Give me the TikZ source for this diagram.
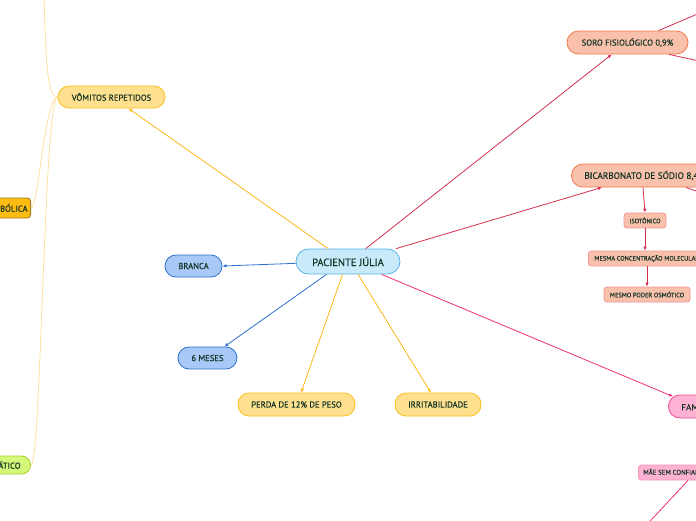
\documentclass[tikz,border=0pt]{standalone}
\usepackage{fontspec}
\setmainfont{PT Sans}[FakeBold=0.35,UprightFeatures={FakeBold=0.35}]
\usetikzlibrary{arrows.meta,calc}
\definecolor{txt}{HTML}{143426}
\definecolor{cF}{HTML}{C8EAFB}
\definecolor{cB}{HTML}{58B4E8}
\definecolor{blueF}{HTML}{A8C9F8}
\definecolor{blueB}{HTML}{3070D0}
\definecolor{yelF}{HTML}{FEE08F}
\definecolor{yelB}{HTML}{FBBF1C}
\definecolor{salF}{HTML}{F9C0AC}
\definecolor{salB}{HTML}{F27A4E}
\definecolor{salS}{HTML}{F2969A}
\definecolor{pinkF}{HTML}{FDB1D3}
\definecolor{pinkB}{HTML}{F04A90}
\definecolor{orF}{HTML}{FDBC12}
\definecolor{orB}{HTML}{A07A20}
\definecolor{grF}{HTML}{D6F87A}
\definecolor{grB}{HTML}{A2D42C}
\definecolor{redL}{HTML}{D43050}
\definecolor{pinkL}{HTML}{F0307C}
\definecolor{blueL}{HTML}{2F6FD0}
\definecolor{yelL}{HTML}{FBBA1A}
\definecolor{thinL}{HTML}{FFDE98}
\tikzset{
  basebox/.style={text=txt, inner sep=0pt, align=center, line width=0.8pt},
  cbox/.style={basebox, draw=cB, fill=cF, rounded corners=12.5pt, font=\fontsize{10.5}{12}\selectfont},
  bluebox/.style={basebox, draw=blueB, fill=blueF, rounded corners=11pt, minimum height=22pt, font=\fontsize{8.6}{10}\selectfont},
  yelbox/.style={basebox, draw=yelB, fill=yelF, rounded corners=11pt, minimum height=22pt, font=\fontsize{8.6}{10}\selectfont},
  salbox/.style={basebox, draw=salB, fill=salF, rounded corners=11.5pt, minimum height=23pt, font=\fontsize{8.6}{10}\selectfont},
  smallbox/.style={basebox, draw=salS, fill=salF, rounded corners=3pt, minimum height=15pt, font=\fontsize{6.4}{8}\selectfont},
  pinkbox/.style={basebox, draw=pinkB, fill=pinkF, rounded corners=11.5pt, minimum height=23pt, font=\fontsize{9}{11}\selectfont},
  pinksmall/.style={basebox, draw=pinkB!60, fill=pinkF, rounded corners=3pt, minimum height=15pt, font=\fontsize{6.8}{8}\selectfont},
  orbox/.style={basebox, draw=orB, fill=orF, rounded corners=3pt, minimum height=20pt, font=\fontsize{8.6}{10}\selectfont},
  grbox/.style={basebox, draw=grB, fill=grF, rounded corners=9pt, minimum height=18pt, font=\fontsize{8.6}{10}\selectfont},
  conn/.style={line width=0.8pt, -{Latex[length=4pt,width=3.5pt]}},
  plainconn/.style={line width=0.8pt},
  thinconn/.style={thinL, line width=0.7pt},
}
\begin{document}
\begin{tikzpicture}[x=1pt,y=-1pt]
\useasboundingbox (0,0) rectangle (696,520);
\clip (0,0) rectangle (696,520);
\fill[white] (0,0) rectangle (696,520);

% nodes
\node[cbox, minimum width=104pt, minimum height=25pt] (c) at (348,261.5) {PACIENTE JÚLIA};
\node[bluebox, minimum width=57pt] (br) at (193.5,266) {BRANCA};
\node[bluebox, minimum width=59pt] (m6) at (207.5,358) {6 MESES};
\node[yelbox, minimum width=117pt, minimum height=23pt] (pe) at (296.5,404.5) {PERDA DE 12\% DE PESO};
\node[yelbox, minimum width=86pt, minimum height=23pt] (ir) at (438,404.5) {IRRITABILIDADE};
\node[yelbox, minimum width=107pt] (vo) at (111.5,97) {VÔMITOS REPETIDOS};
\node[salbox, minimum width=121pt] (so) at (627.5,42.5) {SORO FISIOLÓGICO 0,9\%};
\node[salbox, anchor=west, inner xsep=13pt, font=\fontsize{9.2}{11}\selectfont] (bi) at (571,175.5) {BICARBONATO DE SÓDIO 8,4\%};
\node[smallbox, minimum width=42pt] (is) at (645,220.5) {ISOTÔNICO};
\node[smallbox, anchor=west, inner xsep=6pt] (me) at (588,258.5) {MESMA CONCENTRAÇÃO MOLECULAR};
\node[smallbox, minimum width=86pt] (mo) at (647,294.5) {MESMO PODER OSMÓTICO};
\node[pinkbox, anchor=west, inner xsep=13pt] (fa) at (668,406.5) {FAMÍLIA};
\node[pinksmall, anchor=west, inner xsep=5pt] (ma) at (638,472.5) {MÃE SEM CONFIANÇA};
\node[orbox, anchor=east, inner xsep=3pt] (mt) at (31,208) {METABÓLICA};
\node[grbox, anchor=east, inner xsep=10pt] (at) at (31,465) {ÁTICO};

% off-canvas ends
\coordinate (so1) at (735,-2);
\coordinate (so2) at (735,69);
\coordinate (bi1) at (735,205);
\coordinate (ma1) at (640,532);
\coordinate (top1) at (44,-5);

% central connectors
\draw[conn, yelL] (c.147) -- (vo.326);
\draw[conn, redL] (c.36) -- (so.217);
\draw[conn, redL] (c.15) -- ($(bi.south west)+(31,0)$);
\draw[conn, blueL] (c.182) -- (br.east);
\draw[conn, blueL] (c.211) -- (m6.34);
\draw[conn, yelL] (c.247) -- (pe.69);
\draw[conn, yelL] (c.308) -- (ir.121);
\draw[conn, pinkL] (c.339) -- ($(fa.west)+(5,-10)$);

% right side
\draw[plainconn, redL] (so.21) -- (so1);
\draw[plainconn, redL] (so.344) -- (so2);
\draw[conn, redL] ($(bi.south west)+(72,0)$) -- (is.north);
\draw[plainconn, redL] ($(bi.south west)+(115,0)$) -- (bi1);
\draw[conn, redL] (is.south) -- (is.south |- me.north);
\draw[conn, redL] (mo.north |- me.south) -- (mo.north);
\draw[conn, pinkL] (fa.south) -- (fa.south |- ma.north);
\draw[plainconn, pinkL] ($(ma.south west)+(50,0)$) -- (ma1);

% left thin curves
\draw[thinconn] (vo.west) .. controls (48,97) and (46,70) .. (top1);
\draw[thinconn] (vo.west) .. controls (44,100) and (39,205) .. (mt.east);
\draw[thinconn] (vo.west) .. controls (44,97) and (41,468) .. (at.east);
\end{tikzpicture}
\end{document}
